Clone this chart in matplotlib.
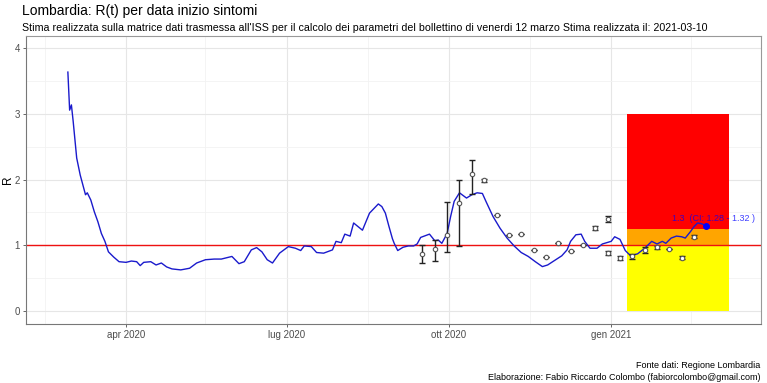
import matplotlib
matplotlib.use("Agg")
import matplotlib.pyplot as plt
import pandas as pd
import numpy as np

plt.rcParams['font.family'] = ['Liberation Sans', 'DejaVu Sans']

# R(t) curve
rt_dates = ['2020-02-28', '2020-02-29', '2020-03-01', '2020-03-02', '2020-03-03', '2020-03-04',
            '2020-03-06', '2020-03-09', '2020-03-10', '2020-03-12', '2020-03-14', '2020-03-16',
            '2020-03-18', '2020-03-20', '2020-03-22', '2020-03-25', '2020-03-28', '2020-04-01',
            '2020-04-04', '2020-04-07', '2020-04-09', '2020-04-11', '2020-04-15', '2020-04-18',
            '2020-04-21', '2020-04-24', '2020-04-27', '2020-05-02', '2020-05-07', '2020-05-11',
            '2020-05-16', '2020-05-21', '2020-05-25', '2020-05-31', '2020-06-04', '2020-06-07',
            '2020-06-11', '2020-06-14', '2020-06-17', '2020-06-20', '2020-06-23', '2020-06-27',
            '2020-07-02', '2020-07-06', '2020-07-09', '2020-07-11', '2020-07-15', '2020-07-18',
            '2020-07-22', '2020-07-27', '2020-07-29', '2020-08-01', '2020-08-03', '2020-08-06',
            '2020-08-08', '2020-08-13', '2020-08-17', '2020-08-22', '2020-08-24', '2020-08-26',
            '2020-08-28', '2020-08-30', '2020-08-31', '2020-09-02', '2020-09-05', '2020-09-08',
            '2020-09-11', '2020-09-13', '2020-09-15', '2020-09-20', '2020-09-23', '2020-09-25',
            '2020-09-27', '2020-09-30', '2020-10-02', '2020-10-04', '2020-10-07', '2020-10-11',
            '2020-10-14', '2020-10-17', '2020-10-20', '2020-10-22', '2020-10-26', '2020-10-30',
            '2020-11-03', '2020-11-07', '2020-11-11', '2020-11-15', '2020-11-19', '2020-11-23',
            '2020-11-26', '2020-11-30', '2020-12-04', '2020-12-07', '2020-12-09', '2020-12-12',
            '2020-12-15', '2020-12-17', '2020-12-20', '2020-12-24', '2020-12-27', '2021-01-01',
            '2021-01-03', '2021-01-06', '2021-01-09', '2021-01-12', '2021-01-16', '2021-01-20',
            '2021-01-24', '2021-01-27', '2021-01-30', '2021-02-01', '2021-02-04', '2021-02-07',
            '2021-02-10', '2021-02-12', '2021-02-15', '2021-02-17', '2021-02-19', '2021-02-21',
            '2021-02-24']
rt_values = [3.64, 3.06, 3.14, 2.89, 2.61, 2.33,
             2.07, 1.77, 1.80, 1.69, 1.51, 1.36,
             1.18, 1.06, 0.90, 0.82, 0.75, 0.74,
             0.76, 0.75, 0.69, 0.74, 0.75, 0.70,
             0.73, 0.67, 0.64, 0.625, 0.65, 0.73,
             0.78, 0.79, 0.79, 0.83, 0.72, 0.75,
             0.93, 0.965, 0.90, 0.78, 0.73, 0.88,
             0.98, 0.955, 0.92, 0.99, 0.98, 0.89,
             0.88, 0.93, 1.06, 1.04, 1.17, 1.14,
             1.34, 1.23, 1.49, 1.63, 1.59, 1.49,
             1.29, 1.10, 1.03, 0.92, 0.97, 0.99,
             0.99, 1.02, 1.12, 1.17, 1.07, 1.08,
             1.03, 1.18, 1.44, 1.67, 1.80, 1.72,
             1.77, 1.80, 1.79, 1.67, 1.44, 1.26,
             1.11, 0.99, 0.89, 0.83, 0.75, 0.675,
             0.70, 0.77, 0.84, 0.93, 1.06, 1.16,
             1.17, 1.06, 0.955, 0.955, 1.02, 1.06,
             1.13, 1.09, 0.92, 0.84, 0.87, 0.955,
             1.06, 1.02, 1.06, 1.03, 1.11, 1.14,
             1.13, 1.11, 1.21, 1.285, 1.34, 1.33,
             1.30]

# weekly estimates with error bars
pt_dates = ['2020-09-16', '2020-09-23', '2020-09-30', '2020-10-07', '2020-10-14', '2020-10-21',
            '2020-10-28', '2020-11-04', '2020-11-11', '2020-11-18', '2020-11-25', '2020-12-02',
            '2020-12-09', '2020-12-16', '2020-12-23', '2020-12-30', '2020-12-30', '2021-01-06',
            '2021-01-13', '2021-01-20', '2021-01-27', '2021-02-03', '2021-02-10', '2021-02-17']
pt_values = [0.86, 0.95, 1.15, 1.65, 2.09, 1.99,
             1.46, 1.15, 1.17, 0.93, 0.82, 1.03,
             0.91, 1.00, 1.27, 1.40, 0.88, 0.80,
             0.83, 0.93, 0.97, 0.945, 0.81, 1.13]
pt_low = [0.73, 0.76, 0.90, 0.99, 1.78, 1.97,
          1.46, 1.15, 1.17, 0.93, 0.82, 1.03,
          0.91, 1.00, 1.24, 1.35, 0.85, 0.77,
          0.79, 0.89, 0.95, 0.945, 0.79, 1.11]
pt_high = [1.01, 1.08, 1.66, 1.99, 2.30, 2.01,
           1.46, 1.15, 1.17, 0.93, 0.82, 1.03,
           0.91, 1.00, 1.30, 1.45, 0.91, 0.83,
           0.87, 0.97, 0.99, 0.945, 0.83, 1.15]

# risk zones
zone_start = '2021-01-10'
zone_end = '2021-03-09'
zone_bottoms = [0, 1, 1.25]
zone_tops = [1, 1.25, 3]
zone_colors = ['#ffff00', '#ffa500', '#ff0000']

last_label = '1.3  (CI: 1.28 - 1.32 )'
xtick_dates = ['2020-04-01', '2020-07-01', '2020-10-01', '2021-01-01']
xtick_labels = ['apr 2020', 'lug 2020', 'ott 2020', 'gen 2021']

rt_x = pd.to_datetime(rt_dates)
pt_x = pd.to_datetime(pt_dates)
pt_values = np.array(pt_values)

fig = plt.figure(figsize=(7.67, 3.83), dpi=100)
ax = fig.add_axes([0.0333, 0.154, 0.959, 0.752])

# grid
major_x = pd.to_datetime(xtick_dates)
minor_x = pd.to_datetime(['2020-02-15', '2020-05-16', '2020-08-16', '2020-11-16', '2021-02-15'])
for d in minor_x:
    ax.axvline(d, color='#f2f2f2', lw=0.6, zorder=0)
for d in major_x:
    ax.axvline(d, color='#e6e6e6', lw=0.8, zorder=0)
for v in [0.5, 1.5, 2.5, 3.5]:
    ax.axhline(v, color='#f2f2f2', lw=0.6, zorder=0)
for v in [0, 1, 2, 3, 4]:
    ax.axhline(v, color='#e6e6e6', lw=0.8, zorder=0)

zs, ze = pd.Timestamp(zone_start), pd.Timestamp(zone_end)
for b, t, c in zip(zone_bottoms, zone_tops, zone_colors):
    ax.fill_between([zs, ze], [b, b], [t, t], color=c, lw=0, zorder=1)

ax.axhline(1, color='#ee1111', lw=1.0, zorder=2)

ax.plot(rt_x, rt_values, color='#1a1acc', lw=1.0, zorder=3)
ax.plot(rt_x[-1:], rt_values[-1:], 'o', color='blue', ms=4, zorder=5)
ax.annotate(last_label, (rt_x[-1], rt_values[-1]), xytext=(5, 2), textcoords='offset points',
            ha='center', va='bottom', color='blue', alpha=0.75, fontsize=6.5, zorder=6)

yerr = [pt_values - np.array(pt_low), np.array(pt_high) - pt_values]
ax.errorbar(pt_x, pt_values, yerr=yerr, fmt='none', ecolor='#222222', elinewidth=1.0,
            capsize=2, capthick=1.0, zorder=4)
ax.plot(pt_x, pt_values, 'o', ms=3.2, mfc='white', mec='#555555', mew=0.8, zorder=4.5)

ax.set_xlim(pd.Timestamp('2020-02-04'), pd.Timestamp('2021-03-27'))
ax.set_ylim(-0.2, 4.19)
ax.set_xticks(major_x)
ax.set_xticklabels(xtick_labels)
ax.set_yticks([0, 1, 2, 3, 4])
ax.tick_params(axis='both', labelsize=7, colors='#4d4d4d', length=2.5, width=0.6, pad=1.5)
for s in ax.spines.values():
    s.set_color('#999999')
    s.set_linewidth(0.8)
ax.spines['left'].set_color('#777777')
ax.spines['bottom'].set_color('#777777')

fig.text(0.0105, 0.53, 'R', fontsize=8.5, rotation=90, ha='center', va='center')
fig.text(0.029, 0.972, 'Lombardia: R(t) per data inizio sintomi', fontsize=10, ha='left', va='center')
fig.text(0.029, 0.928, "Stima realizzata sulla matrice dati trasmessa all'ISS per il calcolo dei parametri "
         "del bollettino di venerdi 12 marzo Stima realizzata il: 2021-03-10",
         fontsize=7.7, ha='left', va='center')
fig.text(0.991, 0.03, 'Fonte dati: Regione Lombardia\nElaborazione: Fabio Riccardo Colombo (fabiorcolombo@gmail.com)',
         fontsize=6.5, ha='right', va='center', linespacing=1.3)

fig.savefig('out.png', dpi=100)
